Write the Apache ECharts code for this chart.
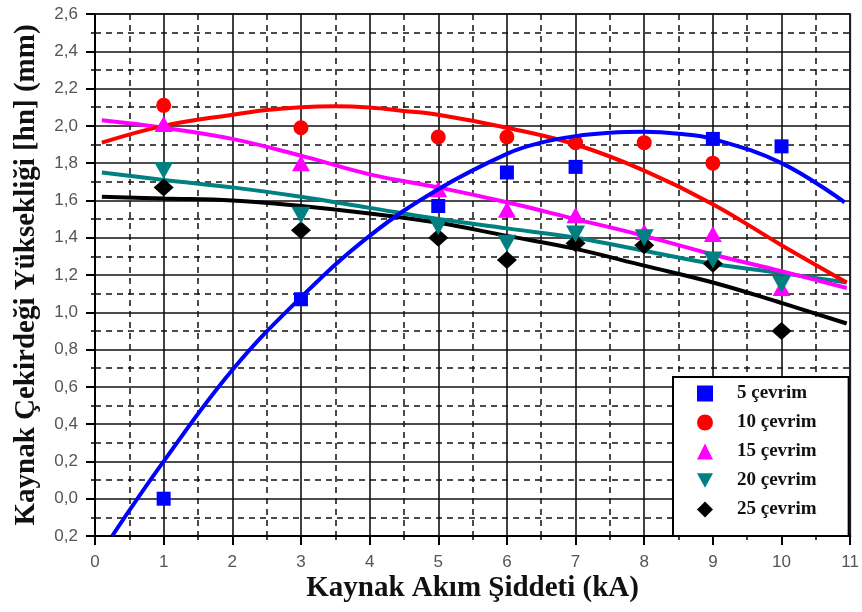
<!DOCTYPE html>
<html><head><meta charset="utf-8">
<script src="https://cdn.jsdelivr.net/npm/echarts@6/dist/echarts.min.js"></script>
<style>html,body{margin:0;padding:0;background:#fff}#c{width:862px;height:612px}</style>
</head><body><div id="c"></div>
<script>
// ---- data ----
const xTickLabels = ['0','1','2','3','4','5','6','7','8','9','10','11'];
const yTickLabels = ['0,2','0,0','0,2','0,4','0,6','0,8','1,0','1,2','1,4','1,6','1,8','2,0','2,2','2,4','2,6'];
const seriesNames = ['5 çevrim','10 çevrim','15 çevrim','20 çevrim','25 çevrim'];

const pts5  = [[1,0.00],[3,1.07],[5,1.57],[6,1.75],[7,1.78],[9,1.93],[10,1.89]];
const pts10 = [[1,2.11],[3,1.99],[5,1.94],[6,1.94],[7,1.91],[8,1.91],[9,1.80]];
const pts15 = [[1,2.01],[3,1.80],[5,1.66],[6,1.55],[7,1.52],[8,1.43],[9,1.42],[10,1.13]];
const pts20 = [[1,1.76],[3,1.52],[5,1.46],[6,1.37],[7,1.42],[8,1.40],[9,1.28],[10,1.15]];
const pts25 = [[1,1.67],[3,1.44],[5,1.40],[6,1.28],[7,1.37],[8,1.36],[9,1.26],[10,0.90]];

const fit5  = [[0.25,-0.2],[1,0.20],[2,0.69],[3,1.08],[4,1.41],[5,1.66],[6,1.85],[6.5,1.91],[7,1.945],[7.5,1.963],[8,1.968],[8.5,1.958],[9,1.93],[10,1.80],[10.92,1.59]];
const fit10 = [[0.1,1.91],[1,2.00],[2,2.06],[2.5,2.085],[3,2.100],[3.5,2.105],[4,2.098],[4.5,2.08],[5,2.06],[6,1.99],[7,1.90],[8,1.76],[9,1.58],[10,1.36],[10.95,1.16]];
const fit15 = [[0.1,2.03],[1,1.99],[2,1.93],[3,1.84],[4,1.74],[5,1.67],[6,1.59],[7,1.50],[8,1.41],[9,1.31],[10,1.22],[10.95,1.13]];
const fit20 = [[0.1,1.75],[1,1.71],[2,1.67],[3,1.62],[4,1.56],[5,1.50],[6,1.45],[7,1.40],[8,1.33],[9,1.26],[10,1.21],[10.95,1.16]];
const fit25 = [[0.1,1.62],[1,1.61],[2,1.60],[3,1.57],[4,1.53],[5,1.48],[6,1.41],[7,1.34],[8,1.25],[9,1.16],[10,1.05],[10.95,0.94]];

const colors = ['#0000ff','#ff0000','#ff00ff','#008080','#000000'];
const yMin = -0.2, yMax = 2.6, yStep = 0.2;

// ---- chart ----
const chart = echarts.init(document.getElementById('c'), null, {renderer:'canvas'});
const gridC = '#111';
function axisCommon() {
  return {
    axisLine:{show:true, onZero:false, lineStyle:{color:'#000', width:2}},
    axisTick:{show:true, inside:false, length:9, lineStyle:{color:'#000', width:2}},
    minorTick:{show:true, splitNumber:2, length:4, lineStyle:{color:'#000', width:1.5}},
    splitLine:{show:true, lineStyle:{color:gridC, width:1.6}},
    minorSplitLine:{show:true, lineStyle:{color:gridC, width:1.5, type:[6,5]}},
    nameMoveOverlap:false,
    nameTextStyle:{fontFamily:'Liberation Serif', fontWeight:'bold', fontSize:29, color:'#111'}
  };
}
const fitLine = (name, data, color, z) => ({
  name, type:'line', data, smooth:0.4, showSymbol:false, symbol:'none',
  lineStyle:{color, width:4}, itemStyle:{color}, z, silent:true, clip:true
});
const scatter = (name, data, color, symbol, size, z) => ({
  name, type:'scatter', data, symbol, symbolSize:size, itemStyle:{color, opacity:1}, z
});

chart.setOption({
  animation:false,
  backgroundColor:'#fff',
  grid:{left:95, top:14, width:758, height:522, show:true, borderColor:'#555', borderWidth:2, backgroundColor:'transparent'},
  xAxis:Object.assign(axisCommon(), {
    type:'value', min:0, max:11, interval:1,
    name:'Kaynak Akım Şiddeti (kA)', nameLocation:'middle', nameGap:38,
    axisLabel:{color:'#555', fontFamily:'Liberation Sans', fontSize:17, margin:18,
      formatter:v => xTickLabels[Math.round(v)]}
  }),
  yAxis:Object.assign(axisCommon(), {
    type:'value', min:yMin, max:yMax, interval:yStep,
    name:'Kaynak Çekirdeği Yüksekliği [hn] (mm)', nameLocation:'middle', nameGap:54, nameRotate:90,
    axisLabel:{color:'#555', fontFamily:'Liberation Sans', fontSize:17, margin:17,
      formatter:v => yTickLabels[Math.round((v - yMin) / yStep)]}
  }),
  legend:{
    data:seriesNames, orient:'vertical', left:673, top:377,
    itemWidth:16, itemHeight:16, itemGap:10, padding:[7,32,17,24],
    backgroundColor:'#fff', borderColor:'#000', borderWidth:2,
    textStyle:{fontFamily:'Liberation Serif', fontWeight:'bold', fontSize:19, color:'#111', padding:[0,0,0,19]},
    selectedMode:false
  },
  series:[
    fitLine('fit 25', fit25, colors[4], 2),
    fitLine('fit 20', fit20, colors[3], 2),
    fitLine('fit 15', fit15, colors[2], 2),
    fitLine('fit 10', fit10, colors[1], 2),
    scatter(seriesNames[4], pts25, colors[4], 'diamond', [20,18], 3),
    scatter(seriesNames[2], pts15, colors[2], 'triangle', [18,16], 3),
    scatter(seriesNames[3], pts20, colors[3], 'path://M0,0L10,0L5,9Z', [19,17], 3),
    scatter(seriesNames[1], pts10, colors[1], 'circle', 15, 3),
    scatter(seriesNames[0], pts5, colors[0], 'rect', 14, 3),
    fitLine('fit 5', fit5, colors[0], 4)
  ]
});
</script></body></html>
